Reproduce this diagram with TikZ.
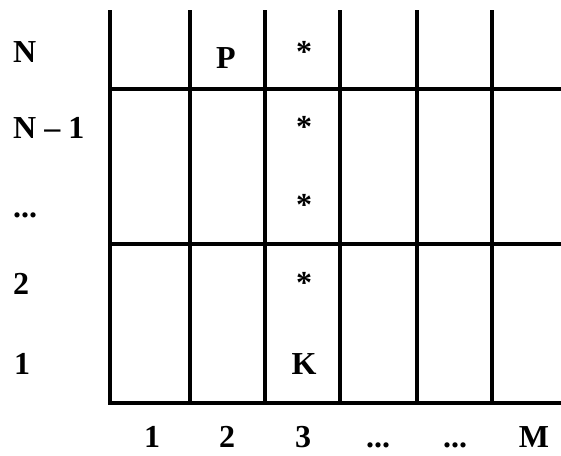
\documentclass[tikz,border=0pt]{standalone}
\usepackage{fontspec}
\setmainfont{Liberation Serif}
\usetikzlibrary{positioning}

\begin{document}
\begin{tikzpicture}[
  x=1pt, y=-1pt,
  gridline/.style={line width=4pt, line cap=rect},
  lbl/.style={font=\fontsize{32}{36}\selectfont\bfseries, inner sep=0pt, anchor=base},
  rowlbl/.style={lbl, anchor=base west},
  starlbl/.style={font=\fontsize{32}{36}\selectfont\bfseries, inner sep=0pt},
]
  \useasboundingbox (0,0) rectangle (561,455);
  % grid
  \foreach \x in {110,190,265,340,417,492}
    \draw[gridline] (\x,12) -- (\x,403);
  \foreach \y in {89,244,403}
    \draw[gridline] (110,\y) -- (563,\y);
  % row labels
  \node[rowlbl] (rN) at (13,62) {N};
  \node[rowlbl] (rN1) at (13,138) {N -- 1};
  \node[rowlbl] (rdots) at (13,217) {...};
  \node[rowlbl] (r2) at (13,294) {2};
  \node[rowlbl] (r1) at (14,374) {1};
  % column labels
  \node[lbl] (c1) at (152,447) {1};
  \node[lbl] (c2) at (227,447) {2};
  \node[lbl] (c3) at (303,447) {3};
  \node[lbl] (c4) at (378,447) {...};
  \node[lbl] (c5) at (455,447) {...};
  \node[lbl] (cM) at (534,447) {M};
  % cells
  \node[lbl] (p) at (226,68) {P};
  \node[lbl] (k) at (304,374) {K};
  \node[starlbl] (s1) at (304,52) {*};
  \node[starlbl] (s2) at (304,127) {*};
  \node[starlbl] (s3) at (304,205) {*};
  \node[starlbl] (s4) at (304,283) {*};
\end{tikzpicture}
\end{document}
